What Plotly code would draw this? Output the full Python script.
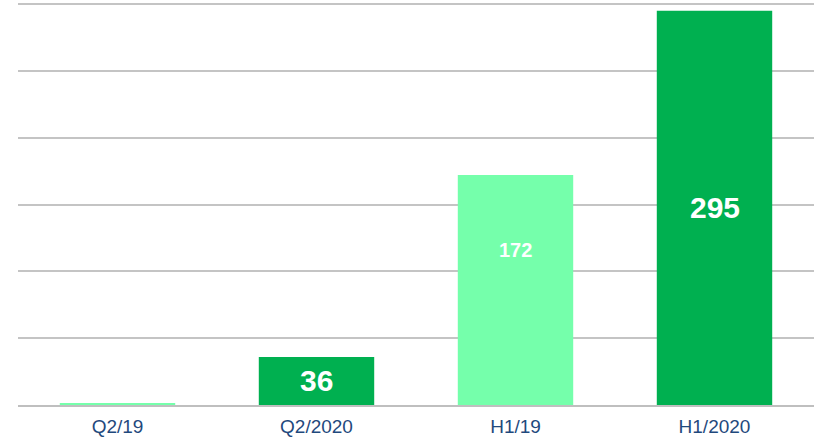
import plotly.graph_objects as go

categories = ["Q2/19", "Q2/2020", "H1/19", "H1/2020"]
values = [1, 36, 172, 295]
labels = ["", "36", "172", "295"]
colors = ["#75FFAB", "#00B050", "#75FFAB", "#00B050"]
label_sizes = [20, 30, 20, 30]
label_frac = [0.5, 0.5, 0.676, 0.5]

fig = go.Figure()
fig.add_trace(go.Bar(x=categories, y=values, marker=dict(color=colors, line=dict(width=0)),
                     width=0.58, hoverinfo="skip"))

for c, v, t, s, f in zip(categories, values, labels, label_sizes, label_frac):
    if t:
        fig.add_annotation(x=c, y=v * f, text="<b>%s</b>" % t, showarrow=False,
                           font=dict(color="white", size=s, family="Liberation Sans, Arial"),
                           xanchor="center", yanchor="middle")

fig.update_layout(
    width=814, height=439,
    margin=dict(l=18, r=0, t=2, b=34),
    paper_bgcolor="white", plot_bgcolor="white",
    showlegend=False,
    font=dict(family="Liberation Sans, Arial", size=20, color="#1F497D"),
)
fig.update_xaxes(showline=True, linecolor="#BFBFBF", linewidth=2, ticks="", ticklen=0,
                 tickfont=dict(size=19, color="#1F497D"), showgrid=False,
                 ticklabelstandoff=3, automargin=False)
fig.update_yaxes(range=[0, 301.5], dtick=50, showticklabels=False, showgrid=True,
                 gridcolor="#C4C4C4", gridwidth=2, zeroline=False, showline=False,
                 automargin=False)

fig.write_html("out.html", config={"displayModeBar": False},
               post_script="document.body.style.margin='0';")
